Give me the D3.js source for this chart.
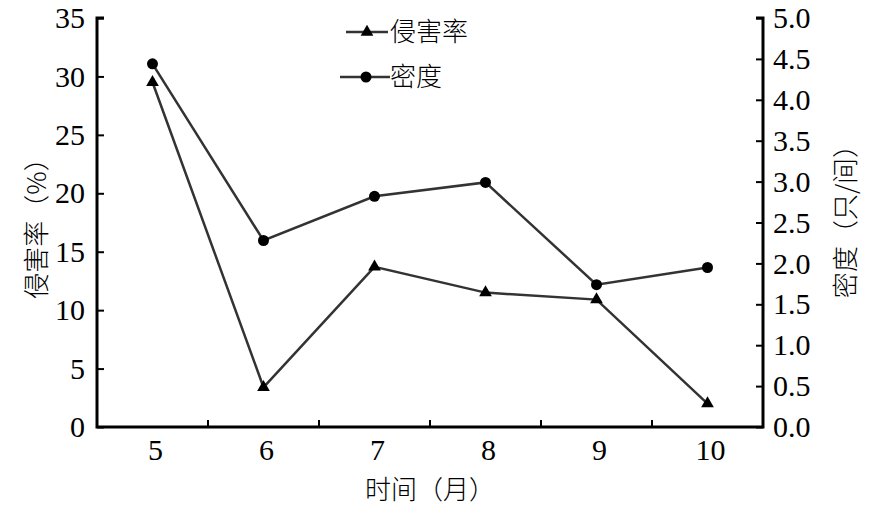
<!DOCTYPE html>
<html><head><meta charset="utf-8">
<script src="https://cdn.jsdelivr.net/npm/d3@7"></script>
</head><body style="margin:0">
<svg id="c" width="873" height="512"></svg>
<script>
const months = ["5","6","7","8","9","10"];
const damageRate = [29.5, 3.4, 13.7, 11.5, 10.9, 2.0];
const density = [4.44, 2.28, 2.82, 2.99, 1.74, 1.95];
const leftTicks = [0,5,10,15,20,25,30,35];
const rightTicks = [0,0.5,1,1.5,2,2.5,3,3.5,4,4.5,5];
const series1Name = "侵害率", series2Name = "密度";
const xTitle = "时间（月）", yLeftTitle = "侵害率（%）", yRightTitle = "密度（只/间）";

const svg = d3.select("#c");
const L=97, R=763, T=18, B=427;
const cjk = '"Noto Sans CJK SC"';
const num = '"Liberation Serif"';

const x = d3.scaleBand().domain(months).range([L,R]);
const yL = d3.scaleLinear().domain([0,35]).range([B,T]);
const yR = d3.scaleLinear().domain([0,5]).range([B,T]);

function styleNums(g){
  g.selectAll("text").style("font-family",num).style("font-size","30px");
}

const gx = svg.append("g").attr("transform",`translate(0,${B})`)
  .call(d3.axisBottom(x).tickSize(0).tickPadding(12));
styleNums(gx);
gx.selectAll("text").attr("dx","3");
gx.select(".domain").remove();
svg.append("g").selectAll("line").data(months.slice(1)).join("line")
  .attr("x1",d=>x(d)).attr("x2",d=>x(d)).attr("y1",B).attr("y2",B-7)
  .attr("stroke","#000").attr("stroke-width",2);

const gl = svg.append("g").attr("transform",`translate(${L},0)`)
  .call(d3.axisLeft(yL).tickValues(leftTicks).tickSizeInner(-7).tickSizeOuter(0).tickPadding(12));
styleNums(gl);
gl.selectAll(".tick line").attr("stroke-width",2);
gl.select(".domain").remove();

const gr = svg.append("g").attr("transform",`translate(${R},0)`)
  .call(d3.axisRight(yR).tickValues(rightTicks).tickSizeInner(-7).tickSizeOuter(0).tickPadding(10).tickFormat(d3.format(".1f")));
styleNums(gr);
gr.selectAll(".tick line").attr("stroke-width",2);
gr.select(".domain").remove();

svg.append("path").attr("d",`M${L+7},${T}H${L}V${B}H${R}V${T}H${R-7}`)
  .attr("fill","none").attr("stroke","#000").attr("stroke-width",3);

const cx = d=>x(d)+x.bandwidth()/2;
const tri = d3.symbol().type(d3.symbolTriangle).size(70);

svg.append("path").datum(damageRate)
  .attr("d",d3.line().x((d,i)=>cx(months[i])).y(d=>yL(d)))
  .attr("fill","none").attr("stroke","#333").attr("stroke-width",2.5);
svg.append("g").selectAll("path").data(damageRate).join("path")
  .attr("d",tri).attr("transform",(d,i)=>`translate(${cx(months[i])},${yL(d)})`).attr("fill","#000");

svg.append("path").datum(density)
  .attr("d",d3.line().x((d,i)=>cx(months[i])).y(d=>yR(d)))
  .attr("fill","none").attr("stroke","#333").attr("stroke-width",2.5);
svg.append("g").selectAll("circle").data(density).join("circle")
  .attr("cx",(d,i)=>cx(months[i])).attr("cy",d=>yR(d)).attr("r",5.5).attr("fill","#000");

svg.append("line").attr("x1",346).attr("x2",388).attr("y1",32).attr("y2",32).attr("stroke","#333").attr("stroke-width",2.5);
svg.append("path").attr("d",tri).attr("transform","translate(367,32)").attr("fill","#000");
svg.append("text").attr("x",390).attr("y",32).attr("dy","0.36em").text(series1Name)
  .style("font-family",cjk).style("font-size","26px").style("font-weight",300);
svg.append("line").attr("x1",340).attr("x2",390).attr("y1",77).attr("y2",77).attr("stroke","#333").attr("stroke-width",2.5);
svg.append("circle").attr("cx",366).attr("cy",77).attr("r",5.5).attr("fill","#000");
svg.append("text").attr("x",390).attr("y",77).attr("dy","0.36em").text(series2Name)
  .style("font-family",cjk).style("font-size","26px").style("font-weight",300);

svg.append("text").attr("x",430).attr("y",490).attr("text-anchor","middle").attr("dy","0.36em")
  .text(xTitle).style("font-family",cjk).style("font-size","26px").style("font-weight",300);
svg.append("text").attr("transform","translate(37,222) rotate(-90)").attr("text-anchor","middle").attr("dy","0.36em")
  .text(yLeftTitle).style("font-family",cjk).style("font-size","26px").style("font-weight",300);
svg.append("text").attr("transform","translate(846,215) rotate(-90)").attr("text-anchor","middle").attr("dy","0.36em")
  .text(yRightTitle).style("font-family",cjk).style("font-size","26px").style("font-weight",300);
</script>
</body></html>
